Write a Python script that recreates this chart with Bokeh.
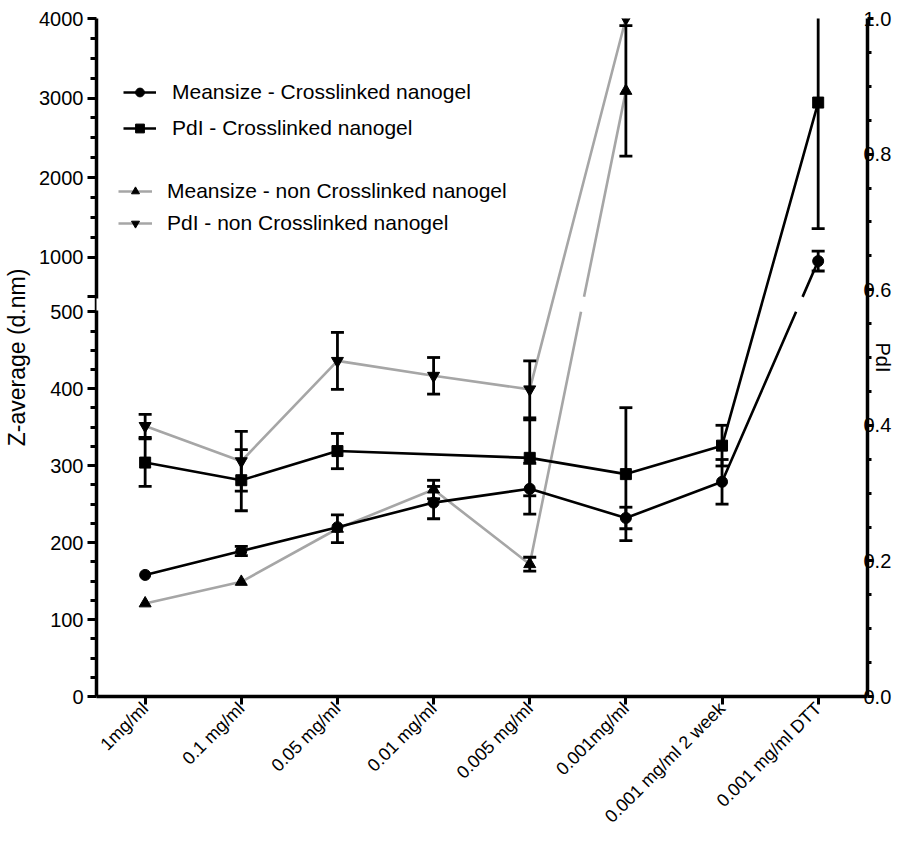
import numpy as np
from bokeh.plotting import figure
from bokeh.models import (Range1d, LinearAxis, FixedTicker, ColumnDataSource,
                          Legend, LegendItem, NumeralTickFormatter)
from bokeh.embed import file_html
from bokeh.resources import INLINE

nan = np.nan

# ---------------- data ----------------
categories = ["1mg/ml", "0.1 mg/ml", "0.05 mg/ml", "0.01 mg/ml", "0.005 mg/ml",
              "0.001mg/ml", "0.001 mg/ml 2 week", "0.001 mg/ml DTT"]

meansize_xl = [158, 189, 220, 252, 270, 232, 279, 950]
meansize_xl_err = [nan, 6, nan, 21, 33, 14, 29, 125]

pdi_xl = [0.345, 0.319, 0.362, nan, 0.352, 0.328, 0.370, 0.876]
pdi_xl_err = [0.035, 0.045, 0.026, nan, 0.056, 0.098, 0.030, 0.186]

meansize_nxl = [121, 149, 218, 269, 172, 3090, nan, nan]
meansize_nxl_err = [nan, nan, 18, 12, 9, 820, nan, nan]

pdi_nxl = [0.399, 0.347, 0.495, 0.473, 0.453, 1.0, nan, nan]
pdi_nxl_err = [0.017, 0.044, 0.042, 0.027, 0.042, nan, nan, nan]

left_lower_ticks = [0, 100, 200, 300, 400, 500]
left_upper_ticks = [1000, 2000, 3000, 4000]
right_ticks = [0.0, 0.2, 0.4, 0.6, 0.8, 1.0]

# ---------------- broken left axis geometry ----------------
BREAK = 500.0
TOP = 4000.0
F_LO = 387 / 682   # frame fraction where lower segment ends (500)
F_HI = 402 / 682   # frame fraction where upper segment starts (500)


def disp(v):
    v = np.asarray(v, dtype=float)
    return np.where(v <= BREAK, v / BREAK * F_LO,
                    F_HI + (v - BREAK) / (TOP - BREAK) * (1 - F_HI))


def broken_path(values):
    pts = [(i, v) for i, v in enumerate(values) if not np.isnan(v)]
    px, py = [], []
    for k, (x, v) in enumerate(pts):
        if k > 0:
            x0, v0 = pts[k - 1]
            d0, d1 = float(disp(v0)), float(disp(v))
            if (v0 <= BREAK) != (v <= BREAK):
                a, b = (F_LO, F_HI) if d1 > d0 else (F_HI, F_LO)
                xa = x0 + (x - x0) * (a - d0) / (d1 - d0)
                xb = x0 + (x - x0) * (b - d0) / (d1 - d0)
                px += [xa, nan, xb]
                py += [a, nan, b]
        px.append(x)
        py.append(float(disp(v)))
    return px, py


def clean(values):
    xs = [i for i, v in enumerate(values) if not np.isnan(v)]
    ys = [v for v in values if not np.isnan(v)]
    return xs, ys


FONT = "Liberation Sans"
BLACK = "#000000"
GRAY = "#a6a6a6"

p = figure(width=897, height=836, output_backend="svg", toolbar_location=None,
           x_range=Range1d(-0.506, 7.513), y_range=Range1d(0, 1),
           x_axis_location=None, y_axis_location=None,
           min_border_left=96, min_border_right=30, min_border_top=18,
           min_border_bottom=130, outline_line_color=None,
           background_fill_color="white", border_fill_color="white")
p.xgrid.visible = False
p.ygrid.visible = False

# ---- lines ----
gx, gy = broken_path(meansize_nxl)
l3 = p.line(gx, gy, line_color=GRAY, line_width=2.6)
px_, py_ = clean(pdi_nxl)
l4 = p.line(px_, py_, line_color=GRAY, line_width=2.6)
bx, by = broken_path(meansize_xl)
l1 = p.line(bx, by, line_color=BLACK, line_width=2.6)
px2, py2 = clean(pdi_xl)
l2 = p.line(px2, py2, line_color=BLACK, line_width=2.6)

# ---- error bars ----
def errbars(values, errs, transform):
    xs, lo, hi = [], [], []
    for i, (v, e) in enumerate(zip(values, errs)):
        if np.isnan(v) or np.isnan(e):
            continue
        xs.append(i)
        lo.append(float(transform(v - e)))
        hi.append(float(transform(v + e)))
    src = ColumnDataSource(dict(x=xs, lo=lo, hi=hi))
    p.segment(x0="x", y0="lo", x1="x", y1="hi", source=src,
              line_color=BLACK, line_width=2.8)
    p.scatter(x="x", y="lo", source=src, marker="dash", size=13,
              line_color=BLACK, line_width=2.8)
    p.scatter(x="x", y="hi", source=src, marker="dash", size=13,
              line_color=BLACK, line_width=2.8)

ident = lambda v: v
errbars(meansize_xl, meansize_xl_err, disp)
errbars(pdi_xl, pdi_xl_err, ident)
errbars(meansize_nxl, meansize_nxl_err, disp)
errbars(pdi_nxl, pdi_nxl_err, ident)

# ---- markers ----
mx, my = clean(meansize_xl)
s1 = p.scatter(mx, [float(d) for d in disp(my)], marker="circle", size=11,
               fill_color=BLACK, line_color=BLACK)
s2 = p.scatter(px2, py2, marker="square", size=11, fill_color=BLACK, line_color=BLACK)
nx, ny = clean(meansize_nxl)
s3 = p.scatter(nx, [float(d) for d in disp(ny)], marker="triangle", size=12,
               fill_color=BLACK, line_color=BLACK)
s4 = p.scatter(px_, py_, marker="inverted_triangle", size=12,
               fill_color=BLACK, line_color=BLACK)

# ---- axes ----
def style_axis(ax):
    ax.axis_line_color = BLACK
    ax.axis_line_width = 3.5
    ax.major_tick_line_color = BLACK
    ax.major_tick_line_width = 3
    ax.minor_tick_line_color = BLACK
    ax.minor_tick_line_width = 3
    ax.major_label_text_color = BLACK
    ax.major_label_text_font = FONT
    ax.major_label_text_font_size = "20px"
    ax.axis_label_text_font = FONT
    ax.axis_label_text_font_style = "normal"
    ax.axis_label_text_color = BLACK
    ax.axis_label_text_font_size = "23px"

# left (broken) axis
left_major = [float(d) for d in disp(left_lower_ticks)] + [F_HI] + \
             [float(d) for d in disp(left_upper_ticks)]
overrides = {float(disp(t)): str(t) for t in left_lower_ticks + left_upper_ticks}
overrides[F_HI] = ""
lower_minor = [float(disp(v)) for v in range(25, 500, 25) if v % 100]
upper_minor = [float(disp(v)) for v in range(1250, 4000, 250) if v % 1000]
yaxis = LinearAxis(ticker=FixedTicker(ticks=left_major, minor_ticks=lower_minor + upper_minor),
                   major_label_overrides=overrides, axis_label="Z-average (d.nm)",
                   bounds=(0, 1))
style_axis(yaxis)
yaxis.major_tick_out = 9
yaxis.major_tick_in = 0
yaxis.minor_tick_out = 6
yaxis.minor_tick_in = 0
yaxis.major_label_standoff = 4
yaxis.axis_label_standoff = 6
p.add_layout(yaxis, "left")

# white overlay hiding the axis line inside the break
gap_axis = LinearAxis(ticker=FixedTicker(ticks=[]), bounds=(F_LO + 1.5 / 682, F_HI - 1.5 / 682),
                      fixed_location=-0.506, axis_line_color="white", axis_line_width=7,
                      major_tick_out=0, major_tick_in=0, minor_tick_out=0, minor_tick_in=0,
                      major_label_text_font_size="0px")
p.add_layout(gap_axis, "left")

# right PdI axis
raxis = LinearAxis(ticker=FixedTicker(ticks=right_ticks,
                                      minor_ticks=[round(0.05 * k, 2) for k in range(1, 20) if k % 4]),
                   formatter=NumeralTickFormatter(format="0.0"), axis_label="PdI")
style_axis(raxis)
raxis.major_tick_out = 6
raxis.major_tick_in = 0
raxis.minor_tick_out = 4
raxis.minor_tick_in = 0
raxis.major_label_standoff = -10
raxis.axis_label_standoff = -22
raxis.axis_label_text_font_size = "20px"
p.add_layout(raxis, "right")

# bottom categorical axis
xaxis = LinearAxis(ticker=FixedTicker(ticks=list(range(len(categories)))),
                   major_label_overrides={i: c for i, c in enumerate(categories)},
                   major_label_orientation=np.pi / 4)
style_axis(xaxis)
xaxis.major_label_text_font_size = "18px"
xaxis.major_tick_out = 8
xaxis.major_tick_in = 0
xaxis.minor_tick_line_color = None
xaxis.major_label_standoff = 1
p.add_layout(xaxis, "below")

# ---- legends ----
def make_legend(items, loc, gh, lh, gw, standoff):
    lg = Legend(items=items, location=loc, padding=0, margin=0, spacing=6,
                glyph_height=gh, glyph_width=gw, label_height=lh,
                label_standoff=standoff, border_line_color=None,
                background_fill_alpha=0, label_text_font=FONT,
                label_text_font_size="21px", label_text_color=BLACK)
    p.add_layout(lg, "center")

make_legend([LegendItem(label="Meansize - Crosslinked nanogel", renderers=[l1, s1]),
             LegendItem(label="PdI - Crosslinked nanogel", renderers=[l2, s2])],
            (27, 553), 22, 30, 33, 16)
make_legend([LegendItem(label="Meansize - non Crosslinked nanogel", renderers=[l3, s3]),
             LegendItem(label="PdI - non Crosslinked nanogel", renderers=[l4, s4])],
            (22, 460), 20, 26, 34, 15)

open("out.html", "w").write(file_html(p, INLINE))
